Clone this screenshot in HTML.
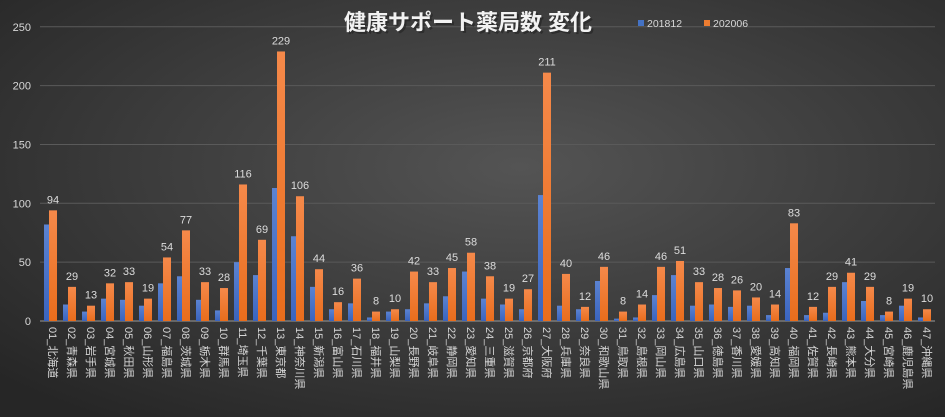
<!DOCTYPE html>
<html><head><meta charset="utf-8"><style>
body{margin:0;width:945px;height:417px;overflow:hidden;}
svg{display:block}
text{font-family:"Liberation Sans","Noto Sans CJK JP",sans-serif;}
</style></head><body>
<svg id="c" width="945" height="417" xmlns="http://www.w3.org/2000/svg">
<defs>
<radialGradient id="bg" cx="0.55" cy="0.4" r="0.75">
<stop offset="0" stop-color="#545454"/><stop offset="1" stop-color="#262626"/>
</radialGradient>
<linearGradient id="og" x1="0" y1="0" x2="0" y2="1"><stop offset="0" stop-color="#f5894a"/><stop offset="1" stop-color="#e96d1c"/></linearGradient>
<linearGradient id="bl" x1="0" y1="0" x2="0" y2="1"><stop offset="0" stop-color="#5b83d2"/><stop offset="1" stop-color="#3a64be"/></linearGradient>
</defs>
<rect width="945" height="417" fill="url(#bg)"/>
<g id="g"></g>
</svg>
<script>
const names=["北海道","青森県","岩手県","宮城県","秋田県","山形県","福島県","茨城県","栃木県","群馬県","埼玉県","千葉県","東京都","神奈川県","新潟県","富山県","石川県","福井県","山梨県","長野県","岐阜県","静岡県","愛知県","三重県","滋賀県","京都府","大阪府","兵庫県","奈良県","和歌山県","鳥取県","島根県","岡山県","広島県","山口県","徳島県","香川県","愛媛県","高知県","福岡県","佐賀県","長崎県","熊本県","大分県","宮崎県","鹿児島県","沖縄県"];
const o=[94,29,13,32,33,19,54,77,33,28,116,69,229,106,44,16,36,8,10,42,33,45,58,38,19,27,211,40,12,46,8,14,46,51,33,28,26,20,14,83,12,29,41,29,8,19,10];
const b=[82,14,8,19,18,13,32,38,18,9,50,39,113,72,29,10,15,3,8,10,15,21,42,19,14,10,107,13,10,34,2,3,22,39,13,14,12,13,5,45,5,7,33,17,5,13,3];
const Y=v=>321-v*1.177;let s="";
for(let v=0;v<=250;v+=50){s+=`<line x1="40" x2="935" y1="${Y(v)}" y2="${Y(v)}" stroke="${v?'#5a5a5a':'#9a9a9a'}" stroke-width="1"/><text x="31" y="${Y(v)+4}" font-size="11" fill="#d8d8d8" text-anchor="end">${v}</text>`;}
for(let i=0;i<47;i++){const x=44+i*19;
s+=`<rect x="${x}" y="${Y(b[i])}" width="5" height="${b[i]*1.177}" fill="url(#bl)"/>`;
s+=`<rect x="${x+5}" y="${Y(o[i])}" width="8" height="${o[i]*1.177}" fill="url(#og)"/>`;
s+=`<text x="${x+9}" y="${Y(o[i])-7}" font-size="11" fill="#dcdcdc" text-anchor="middle">${o[i]}</text>`;
const lab=String(i+1).padStart(2,"0")+"_"+names[i];
s+=`<text transform="translate(${x+5},327) rotate(90)" font-size="11" fill="#d6d6d6">${lab}</text>`;}
s+=`<text x="470" y="32" font-size="22" font-weight="bold" fill="#222" text-anchor="middle" opacity="0.6">健康サポート薬局数 変化</text>`;
s+=`<text x="468" y="30" font-size="22" font-weight="bold" fill="#f2f2f2" text-anchor="middle">健康サポート薬局数 変化</text>`;
s+=`<rect x="638" y="20" width="6" height="6" fill="#4472c4"/><text x="647" y="27" font-size="10.5" fill="#d8d8d8">201812</text>`;
s+=`<rect x="704" y="20" width="6" height="6" fill="#ed7d31"/><text x="713" y="27" font-size="10.5" fill="#d8d8d8">202006</text>`;
document.getElementById("g").innerHTML=s;
</script>
</body></html>
